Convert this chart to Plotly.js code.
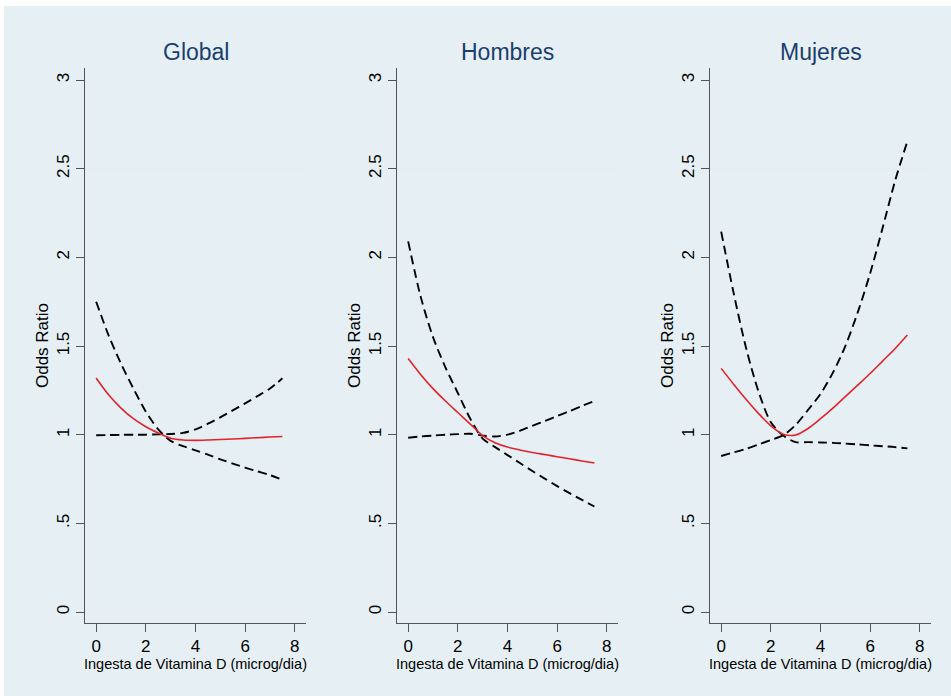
<!DOCTYPE html>
<html>
<head>
<meta charset="utf-8">
<script src="https://cdn.plot.ly/plotly-3.0.1.min.js"></script>
<style>html,body{margin:0;padding:0;background:#fff;}#chart{width:951px;height:696px;}</style>
</head>
<body>
<div id="chart"></div>
<script>
// ---- data ----
var xs = [0, 0.5, 1, 1.5, 2, 2.5, 3, 3.5, 4, 4.5, 5, 5.5, 6, 6.5, 7, 7.5];

var panelTitles = ["Global", "Hombres", "Mujeres"];

var globalOR    = [1.32, 1.225, 1.15, 1.09, 1.045, 1.01, 0.98, 0.97, 0.968, 0.97, 0.973, 0.976, 0.979, 0.983, 0.987, 0.99];
var globalCI_A  = [1.75, 1.56, 1.40, 1.26, 1.13, 1.03, 0.965, 0.935, 0.912, 0.887, 0.861, 0.837, 0.814, 0.793, 0.772, 0.745];
var globalCI_B  = [0.997, 0.998, 0.999, 1.0, 1.0, 1.002, 1.004, 1.01, 1.03, 1.062, 1.098, 1.137, 1.177, 1.218, 1.26, 1.318];

var hombresOR   = [1.43, 1.34, 1.26, 1.19, 1.125, 1.06, 0.995, 0.955, 0.93, 0.914, 0.90, 0.888, 0.876, 0.864, 0.852, 0.84];
var hombresCI_A = [2.09, 1.78, 1.55, 1.38, 1.235, 1.09, 0.978, 0.93, 0.885, 0.84, 0.795, 0.752, 0.71, 0.67, 0.632, 0.595];
var hombresCI_B = [0.983, 0.99, 0.995, 1.0, 1.003, 1.005, 0.995, 0.99, 1.0, 1.022, 1.05, 1.077, 1.105, 1.133, 1.162, 1.19];

var mujeresOR   = [1.374, 1.285, 1.2, 1.12, 1.05, 1.003, 0.998, 1.035, 1.09, 1.15, 1.215, 1.28, 1.345, 1.415, 1.485, 1.562];
var mujeresCI_A = [2.145, 1.80, 1.49, 1.245, 1.07, 0.995, 0.958, 0.958, 0.956, 0.954, 0.95, 0.945, 0.94, 0.935, 0.93, 0.923];
var mujeresCI_B = [0.88, 0.90, 0.92, 0.945, 0.97, 0.997, 1.055, 1.14, 1.23, 1.35, 1.50, 1.69, 1.91, 2.165, 2.43, 2.655];

var yTickVals = [0, 0.5, 1, 1.5, 2, 2.5, 3];
var yTickText = ["0", ".5", "1", "1.5", "2", "2.5", "3"];
var xTickVals = [0, 2, 4, 6, 8];
var gridVals = [0.5, 1, 1.5, 2, 2.5];

var xTitle = "Ingesta de Vitamina D (microg/dia)";
var yTitle = "Odds Ratio";

// ---- styling ----
var FONT = "Liberation Sans, Arial, sans-serif";
var RED = "#e3232b";
var BG = "#e6f0f4";

var panels = [
  {or: globalOR, a: globalCI_A, b: globalCI_B},
  {or: hombresOR, a: hombresCI_A, b: hombresCI_B},
  {or: mujeresOR, a: mujeresCI_A, b: mujeresCI_B}
];

var traces = [];
panels.forEach(function(p, i) {
  var xa = i === 0 ? "x" : "x" + (i + 1);
  var ya = i === 0 ? "y" : "y" + (i + 1);
  [p.a, p.b].forEach(function(ci) {
    traces.push({x: xs, y: ci, xaxis: xa, yaxis: ya, mode: "lines", type: "scatter",
      line: {color: "#000", width: 1.9, dash: "9px,5px", shape: "spline", smoothing: 0.8},
      hoverinfo: "skip", showlegend: false});
  });
  traces.push({x: xs, y: p.or, xaxis: xa, yaxis: ya, mode: "lines", type: "scatter",
    line: {color: RED, width: 1.6, shape: "spline", smoothing: 0.8},
    hoverinfo: "skip", showlegend: false});
});

var W = 951, H = 696;
var plotLefts = [85, 397, 710];
var plotWidth = 221;
var plotTop = 68, plotBottom = 623;

var layout = {
  width: W, height: H,
  margin: {l: 0, r: 0, t: 0, b: 0},
  paper_bgcolor: "#ffffff",
  plot_bgcolor: "#ffffff",
  showlegend: false,
  font: {family: FONT, color: "#000"},
  shapes: [{type: "rect", xref: "paper", yref: "paper", x0: 4 / W, x1: 1, y0: 0, y1: 1 - 6 / H,
            fillcolor: BG, line: {width: 0}, layer: "below"}],
  annotations: []
};

for (var i = 0; i < 3; i++) {
  var sx = i === 0 ? "" : String(i + 1);
  layout["xaxis" + sx] = {
    domain: [plotLefts[i] / W, (plotLefts[i] + plotWidth) / W],
    anchor: "y" + sx,
    range: [-0.45, 8.45],
    tickvals: xTickVals,
    ticks: "outside", ticklen: 8, tickwidth: 1, tickcolor: "#555",
    showline: true, linecolor: "#555", linewidth: 1,
    showgrid: false, zeroline: false,
    tickfont: {size: 17, family: FONT, color: "#000"},
    title: {text: xTitle, font: {size: 14.5, family: FONT, color: "#000"}, standoff: 2}
  };
  layout["yaxis" + sx] = {
    domain: [1 - plotBottom / H, 1 - plotTop / H],
    anchor: "x" + sx,
    range: [-0.062, 3.068],
    tickvals: yTickVals, ticktext: yTickText, tickangle: -90,
    ticks: "outside", ticklen: 8, tickwidth: 1, tickcolor: "#555",
    showline: true, linecolor: "#555", linewidth: 1,
    showgrid: false, zeroline: false,
    tickfont: {size: 17, family: FONT, color: "#000"},
    title: {text: yTitle, font: {size: 17, family: FONT, color: "#000"}, standoff: 1}
  };
  gridVals.forEach(function(g) {
    layout.shapes.push({type: "line", xref: "x" + sx + " domain", yref: "y" + sx,
      x0: 0, x1: 1, y0: g, y1: g, line: {color: "#e4eef2", width: 1.2}, layer: "below"});
  });
  layout.annotations.push({
    text: panelTitles[i], xref: "paper", yref: "paper",
    x: (plotLefts[i] + plotWidth / 2) / W, y: 1 - 52 / H,
    xanchor: "center", yanchor: "middle", showarrow: false,
    font: {size: 23, family: FONT, color: "#1a3f6e"}
  });
}

Plotly.newPlot("chart", traces, layout, {staticPlot: true, displayModeBar: false});
</script>
</body>
</html>
